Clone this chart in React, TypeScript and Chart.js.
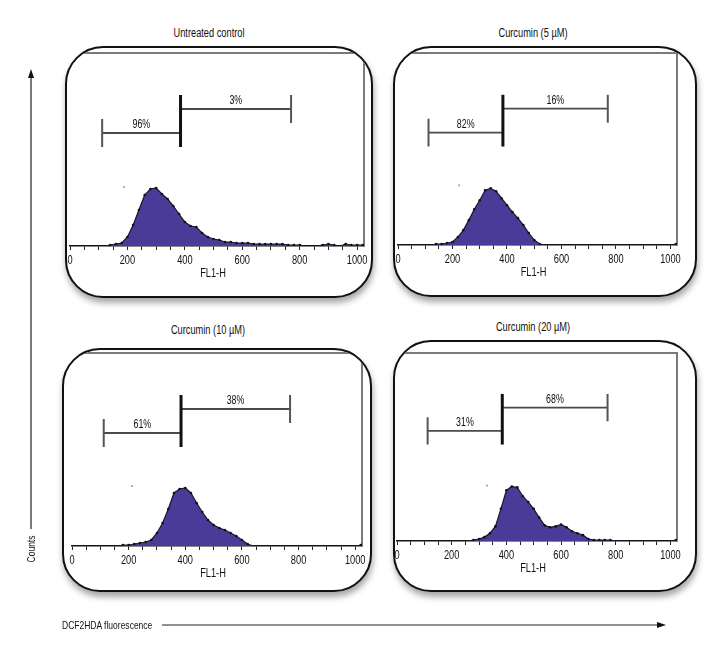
import React, { useEffect, useRef } from 'react';
import { Chart, registerables } from 'chart.js';
Chart.register(...registerables);

const FONT = "'Liberation Sans', Arial, 'DejaVu Sans', sans-serif";
const SX = 0.74; // horizontal condensing of the lettering

// ---- data ----
const panelTitles = ['Untreated control', 'Curcumin (5 µM)', 'Curcumin (10 µM)', 'Curcumin (20 µM)'];
const fl1Bins = [0, 20, 40, 60, 80, 100, 120, 140, 160, 180, 200, 220, 240, 260, 280, 300, 320, 340, 360, 380, 400, 420, 440, 460, 480, 500, 520, 540, 560, 580, 600, 620, 640, 660, 680, 700, 720, 740, 760, 780, 800, 820, 840, 860, 880, 900, 920, 940, 960, 980, 1000, 1020];
const untreatedCounts = [0, 0, 0, 0, 0, 0, 0, 1, 2, 3, 9, 21, 36, 51, 57, 58, 52, 47, 40, 32, 24, 20, 19, 13, 9, 7, 6, 4, 4, 3, 3, 3, 2, 2, 2, 2, 2, 2, 1, 1, 1, 0, 0, 0, 1, 2, 1, 0, 2, 1, 1, 1];
const curcumin5Counts = [0, 0, 0, 0, 0, 0, 0, 1, 1, 2, 3, 8, 15, 25, 36, 45, 55, 57, 54, 47, 40, 33, 27, 20, 12, 5, 1, 0, 0, 0, 0, 0, 0, 0, 0, 0, 0, 0, 0, 0, 0, 0, 0, 0, 0, 0, 0, 0, 0, 0, 0, 1];
const curcumin10Counts = [0, 0, 0, 0, 0, 0, 0, 0, 0, 1, 1, 2, 3, 4, 6, 13, 23, 37, 53, 57, 58, 53, 43, 34, 26, 21, 18, 16, 13, 10, 6, 2, 0, 0, 0, 0, 0, 0, 0, 0, 0, 0, 0, 0, 0, 0, 0, 0, 0, 0, 0, 1];
const curcumin20Counts = [0, 0, 0, 0, 0, 0, 0, 0, 0, 0, 0, 0, 0, 0, 1, 2, 4, 8, 15, 33, 52, 56, 55, 46, 40, 33, 24, 16, 14, 15, 17, 14, 10, 8, 6, 2, 1, 1, 1, 1, 0, 0, 0, 0, 0, 0, 0, 0, 0, 0, 0, 1];
const panelCounts = [untreatedCounts, curcumin5Counts, curcumin10Counts, curcumin20Counts];
const strayEventX = [188, 224, 212, 329];
const strayEventY = [59, 60, 60, 57];
const gateEdges = [112, 385, 770];
const gateLevels = [113, 137];
const gateTickHalf = 14;
const leftGatePct = ['96%', '82%', '61%', '31%'];
const rightGatePct = ['3%', '16%', '38%', '68%'];
const xTickValues = [0, 200, 400, 600, 800, 1000];
const xTickLabels = ['0', '200', '400', '600', '800', '1000'];
const xAxisTitle = 'FL1-H';
const X_MIN = 0;
const X_MAX = 1024;
const Y_MAX = 193;

// ---- layout (page pixels) ----
const LAYOUT = [
  { box: { l: 65, t: 46, r: 373, b: 298 }, plot: { x0: 70, x1: 364, top: 53, base: 246 }, title: { x: 209, y: 33 } },
  { box: { l: 393, t: 46, r: 697, b: 297 }, plot: { x0: 398, x1: 677, top: 53, base: 245 }, title: { x: 533, y: 33 } },
  { box: { l: 62, t: 348, r: 372, b: 592 }, plot: { x0: 72, x1: 362, top: 353, base: 546 }, title: { x: 208, y: 330 } },
  { box: { l: 393, t: 340, r: 697, b: 592 }, plot: { x0: 397, x1: 677, top: 353, base: 541 }, title: { x: 533, y: 327 } },
];
const TICK_LEN = 4;
const BORDER = 2;

function condensedText(ctx: CanvasRenderingContext2D, text: string, x: number, y: number, size: number) {
  ctx.save();
  ctx.font = `${size}px ${FONT}`;
  ctx.fillStyle = '#111';
  ctx.textAlign = 'center';
  ctx.textBaseline = 'middle';
  ctx.translate(x, y);
  ctx.scale(SX, 1);
  ctx.fillText(text, 0, 0);
  ctx.restore();
}

const gatePlugin = {
  id: 'facsGates',
  beforeDatasetsDraw(chart: any) {
    const { ctx, chartArea: ca } = chart;
    ctx.save();
    ctx.strokeStyle = '#7a7a7a';
    ctx.lineWidth = 2;
    ctx.beginPath();
    ctx.moveTo(0, ca.top);
    ctx.lineTo(ca.right, ca.top);
    ctx.lineTo(ca.right, ca.bottom);
    ctx.stroke();
    ctx.restore();
  },
  afterDraw(chart: any, _args: any, opts: any) {
    const { ctx, chartArea: ca } = chart;
    const x = chart.scales.x;
    const y = chart.scales.y;
    const [e0, e1, e2] = gateEdges.map((v) => x.getPixelForValue(v));
    const yl = y.getPixelForValue(gateLevels[0]);
    const yr = y.getPixelForValue(gateLevels[1]);
    const lTop = y.getPixelForValue(gateLevels[0] + gateTickHalf);
    const lBot = y.getPixelForValue(gateLevels[0] - gateTickHalf);
    const rTop = y.getPixelForValue(gateLevels[1] + gateTickHalf);
    const rBot = y.getPixelForValue(gateLevels[1] - gateTickHalf);
    ctx.save();
    ctx.lineCap = 'butt';
    ctx.strokeStyle = '#4a4a4a';
    ctx.lineWidth = 1.8;
    ctx.beginPath();
    ctx.moveTo(e0, yl); ctx.lineTo(e1, yl);
    ctx.moveTo(e1, yr); ctx.lineTo(e2, yr);
    ctx.stroke();
    ctx.strokeStyle = '#555';
    ctx.lineWidth = 2;
    ctx.beginPath();
    ctx.moveTo(e0, lTop); ctx.lineTo(e0, lBot);
    ctx.moveTo(e2, rTop); ctx.lineTo(e2, rBot);
    ctx.stroke();
    ctx.strokeStyle = '#111';
    ctx.lineWidth = 3;
    ctx.beginPath();
    ctx.moveTo(e1, rTop); ctx.lineTo(e1, lBot);
    ctx.stroke();
    ctx.restore();
    condensedText(ctx, opts.left, (e0 + e1) / 2, yl - 8, 12);
    condensedText(ctx, opts.right, (e1 + e2) / 2, yr - 8, 12);
    // tick labels and axis title
    xTickValues.forEach((v, i) => {
      condensedText(ctx, xTickLabels[i], x.getPixelForValue(v), ca.bottom + 15, 12.5);
    });
    condensedText(ctx, xAxisTitle, (ca.left + ca.right) / 2 - 4, ca.bottom + 28, 12.5);
  },
};

function Panel({ idx }: { idx: number }) {
  const ref = useRef<HTMLCanvasElement>(null);
  const L = LAYOUT[idx];
  const w = L.box.r - L.box.l - 2 * BORDER;
  const h = L.box.b - L.box.t - 2 * BORDER;
  useEffect(() => {
    const canvas = ref.current!;
    const innerL = L.box.l + BORDER;
    const innerT = L.box.t + BORDER;
    const innerR = L.box.r - BORDER;
    const innerB = L.box.b - BORDER;
    const counts = panelCounts[idx];
    const chart = new Chart(canvas, {
      type: 'line',
      data: {
        datasets: [
          {
            label: panelTitles[idx],
            data: fl1Bins.map((x, i) => ({ x, y: counts[i] })),
            fill: 'origin',
            backgroundColor: '#4a3b98',
            borderColor: '#1b1530',
            borderWidth: 1.2,
            tension: 0,
            pointRadius: (c: any) => (c.raw && c.raw.y > 0 ? 1.3 : 0),
            pointBackgroundColor: '#111',
            pointBorderWidth: 0,
          },
          {
            label: 'stray',
            data: [{ x: strayEventX[idx], y: strayEventY[idx] }],
            showLine: false,
            pointRadius: 1,
            pointBackgroundColor: '#9a9a9a',
            pointBorderWidth: 0,
          },
        ],
      },
      options: {
        responsive: false,
        animation: false,
        devicePixelRatio: 1,
        events: [],
        layout: {
          autoPadding: false,
          padding: {
            left: L.plot.x0 - innerL,
            right: innerR - L.plot.x1,
            top: L.plot.top - innerT,
            bottom: innerB - L.plot.base - TICK_LEN,
          },
        },
        plugins: {
          legend: { display: false },
          tooltip: { enabled: false },
          facsGates: { left: leftGatePct[idx], right: rightGatePct[idx] },
        } as any,
        scales: {
          x: {
            type: 'linear',
            min: X_MIN,
            max: X_MAX,
            z: 1,
            border: { display: true, color: '#111', width: 1.5 },
            grid: { display: true, drawOnChartArea: false, drawTicks: true, tickLength: TICK_LEN, color: '#222', lineWidth: 1 },
            ticks: { display: false, stepSize: 50, includeBounds: false, autoSkip: false },
            title: { display: false },
          },
          y: { display: false, min: 0, max: Y_MAX },
        },
      },
      plugins: [gatePlugin],
    } as any);
    return () => chart.destroy();
  }, []);
  return (
    <>
      <div
        style={{
          position: 'absolute', left: L.title.x, top: L.title.y, transform: `translate(-50%, -50%) scaleX(${SX})`,
          font: `12.5px ${FONT}`, color: '#111', whiteSpace: 'nowrap',
        }}
      >
        {panelTitles[idx]}
      </div>
      <div
        style={{
          position: 'absolute', left: L.box.l, top: L.box.t, width: L.box.r - L.box.l, height: L.box.b - L.box.t,
          boxSizing: 'border-box', border: `${BORDER}px solid #111`, borderRadius: 38, overflow: 'hidden',
          background: '#fff', boxShadow: '1px 5px 6px rgba(0,0,0,0.35)',
        }}
      >
        <canvas ref={ref} width={w} height={h} style={{ position: 'absolute', left: 0, top: 0, display: 'block' }} />
      </div>
    </>
  );
}

export default function App() {
  return (
    <div style={{ position: 'absolute', left: 0, top: 0, width: 720, height: 660, background: '#fff', overflow: 'hidden' }}>
      {[0, 1, 2, 3].map((i) => (
        <Panel key={i} idx={i} />
      ))}
      <svg width={720} height={660} style={{ position: 'absolute', left: 0, top: 0, pointerEvents: 'none' }}>
        <line x1={31} y1={529} x2={31} y2={76} stroke="#222" strokeWidth={1.2} />
        <polygon points="31,69 28,78 34,78" fill="#111" />
        <line x1={162} y1={625} x2={659} y2={625} stroke="#222" strokeWidth={1.2} />
        <polygon points="666,625 657,622 657,628" fill="#111" />
      </svg>
      <div
        style={{
          position: 'absolute', left: 31, top: 549, transform: `translate(-50%, -50%) rotate(-90deg) scaleX(${SX})`,
          font: `11.5px ${FONT}`, color: '#111', whiteSpace: 'nowrap',
        }}
      >
        Counts
      </div>
      <div
        style={{
          position: 'absolute', left: 62, top: 625, transform: `translateY(-50%) scaleX(${SX})`, transformOrigin: 'left center',
          font: `11.5px ${FONT}`, color: '#111', whiteSpace: 'nowrap',
        }}
      >
        DCF2HDA fluorescence
      </div>
    </div>
  );
}
